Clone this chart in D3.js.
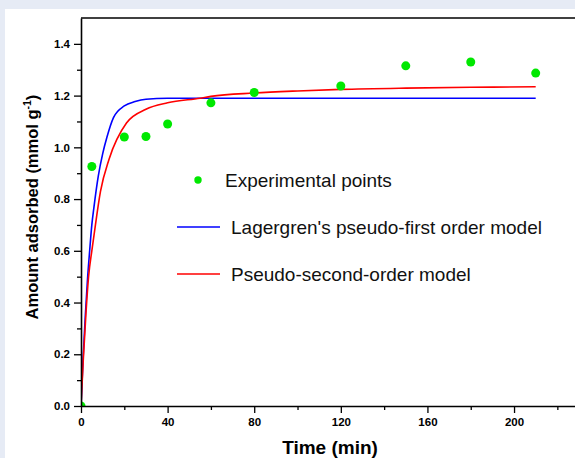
<!DOCTYPE html>
<html>
<head>
<meta charset="utf-8">
<script src="https://cdn.jsdelivr.net/npm/d3@7"></script>
<style>
  html, body { margin: 0; padding: 0; background: #e6ebf5; }
  svg { display: block; }
  text { font-family: "Liberation Sans", Arial, sans-serif; }
</style>
</head>
<body>
<svg id="chart" width="575" height="458"></svg>
<script>
// ---- data ----
const expTime  = [0, 5, 20, 30, 40, 60, 80, 120, 150, 180, 210];
const expValue = [0, 0.926, 1.04, 1.042, 1.09, 1.172, 1.212, 1.237, 1.315, 1.33, 1.287];

const firstOrderTime  = [0, 1, 2, 3, 4, 5, 6, 8, 10, 12, 15, 20, 25, 30, 40, 60, 100, 150, 210];
const firstOrderValue = [0, 0.19, 0.35, 0.49, 0.60, 0.70, 0.77, 0.89, 0.975, 1.04, 1.115, 1.16, 1.177, 1.186, 1.19, 1.19, 1.19, 1.19, 1.19];

const secondOrderTime  = [0, 1, 2.3, 3.5, 5, 6, 9, 13, 21, 30, 40, 55, 60, 80, 100, 120, 150, 180, 210];
const secondOrderValue = [0, 0.17, 0.36, 0.50, 0.60, 0.66, 0.83, 0.955, 1.094, 1.147, 1.172, 1.19, 1.197, 1.21, 1.218, 1.224, 1.229, 1.232, 1.234];

const xMajorTicks = [0, 40, 80, 120, 160, 200];
const xMinorTicks = [20, 60, 100, 140, 180, 220];
const yMajorTicks = [0, 0.2, 0.4, 0.6, 0.8, 1.0, 1.2, 1.4];
const yMinorTicks = [0.1, 0.3, 0.5, 0.7, 0.9, 1.1, 1.3];

const legendLabels = ["Experimental points", "Lagergren's pseudo-first order model", "Pseudo-second-order model"];
const xTitle = "Time (min)";

// ---- drawing ----
const svg = d3.select("#chart");
const W = 575, H = 458;
const mLeft = 81, mRight = 579, mTop = 18, mBottom = 406;

svg.append("rect").attr("width", W).attr("height", H).attr("fill", "#e6ebf5");
svg.append("rect").attr("x", 5).attr("y", 9).attr("width", W - 5).attr("height", H - 9).attr("fill", "#ffffff");

const x = d3.scaleLinear().domain([0, 230]).range([mLeft, mRight]);
const y = d3.scaleLinear().domain([0, 1.5]).range([mBottom, mTop]);

svg.append("defs").append("clipPath").attr("id", "plotclip")
  .append("rect").attr("x", mLeft).attr("y", mTop).attr("width", mRight - mLeft).attr("height", mBottom - mTop);

const plot = svg.append("g").attr("clip-path", "url(#plotclip)");

// Lines
const line = d3.line().x(d => x(d[0])).y(d => y(d[1])).curve(d3.curveMonotoneX);
const blueData = firstOrderTime.map((t, i) => [t, firstOrderValue[i]]);
const redData = secondOrderTime.map((t, i) => [t, secondOrderValue[i]]);

plot.append("path").datum(blueData).attr("d", line)
  .attr("fill", "none").attr("stroke", "#0000ff").attr("stroke-width", 1.6);
plot.append("path").datum(redData).attr("d", line)
  .attr("fill", "none").attr("stroke", "#ff0000").attr("stroke-width", 1.6);

// Points
plot.selectAll("circle.exp").data(expTime.map((t, i) => [t, expValue[i]]))
  .enter().append("circle").attr("class", "exp")
  .attr("cx", d => x(d[0])).attr("cy", d => y(d[1])).attr("r", 4.5)
  .attr("fill", "#00e800");

// Axes
const fontBold = g => g.selectAll("text")
  .attr("font-family", "'Liberation Sans', Arial, sans-serif")
  .attr("font-weight", "bold").attr("font-size", 11.5).attr("fill", "#000");

const xAxis = svg.append("g").attr("transform", `translate(0,${mBottom})`)
  .call(d3.axisBottom(x).tickValues(xMajorTicks).tickSize(7).tickSizeOuter(0).tickPadding(5).tickFormat(d3.format("d")));
xAxis.call(fontBold);
xAxis.select(".domain").attr("stroke-width", 1.6);
xAxis.selectAll(".tick line").attr("stroke-width", 1.3);

const xMinor = svg.append("g").attr("transform", `translate(0,${mBottom})`)
  .call(d3.axisBottom(x).tickValues(xMinorTicks).tickSize(4).tickSizeOuter(0).tickFormat(""));
xMinor.select(".domain").remove();
xMinor.selectAll(".tick line").attr("stroke-width", 1.3);

const yAxis = svg.append("g").attr("transform", `translate(${mLeft},0)`)
  .call(d3.axisLeft(y).tickValues(yMajorTicks).tickSize(7).tickSizeOuter(0).tickPadding(4).tickFormat(d3.format(".1f")));
yAxis.call(fontBold);
yAxis.select(".domain").attr("stroke-width", 1.6);
yAxis.selectAll(".tick line").attr("stroke-width", 1.3);

const yMinor = svg.append("g").attr("transform", `translate(${mLeft},0)`)
  .call(d3.axisLeft(y).tickValues(yMinorTicks).tickSize(4).tickSizeOuter(0).tickFormat(""));
yMinor.select(".domain").remove();
yMinor.selectAll(".tick line").attr("stroke-width", 1.3);

// top frame
svg.append("line").attr("x1", mLeft).attr("x2", mRight).attr("y1", y(1.5)).attr("y2", y(1.5))
  .attr("stroke", "#000").attr("stroke-width", 1.6);

// Axis titles
svg.append("text").attr("x", x(115)).attr("y", 454)
  .attr("text-anchor", "middle").attr("font-weight", "bold").attr("font-size", 19)
  .text(xTitle);

const yt = svg.append("text")
  .attr("transform", `translate(38,207) rotate(-90)`)
  .attr("text-anchor", "middle").attr("font-weight", "bold").attr("font-size", 16.5);
yt.append("tspan").text("Amount adsorbed (mmol g");
yt.append("tspan").attr("font-size", 10.5).attr("dy", -7).text("-1");
yt.append("tspan").attr("dy", 7).text(")");

// Legend
const lg = svg.append("g");
lg.append("circle").attr("cx", 198).attr("cy", 180).attr("r", 3.7).attr("fill", "#00e800");
lg.append("text").attr("x", 225).attr("y", 187).attr("font-size", 19).attr("fill", "#111").text(legendLabels[0]);
lg.append("line").attr("x1", 177).attr("x2", 220).attr("y1", 227).attr("y2", 227)
  .attr("stroke", "#0000ff").attr("stroke-width", 1.5);
lg.append("text").attr("x", 231).attr("y", 234).attr("font-size", 19).attr("fill", "#111").text(legendLabels[1]);
lg.append("line").attr("x1", 177).attr("x2", 220).attr("y1", 274).attr("y2", 274)
  .attr("stroke", "#ff0000").attr("stroke-width", 1.5);
lg.append("text").attr("x", 231).attr("y", 281).attr("font-size", 19).attr("fill", "#111").text(legendLabels[2]);
</script>
</body>
</html>
